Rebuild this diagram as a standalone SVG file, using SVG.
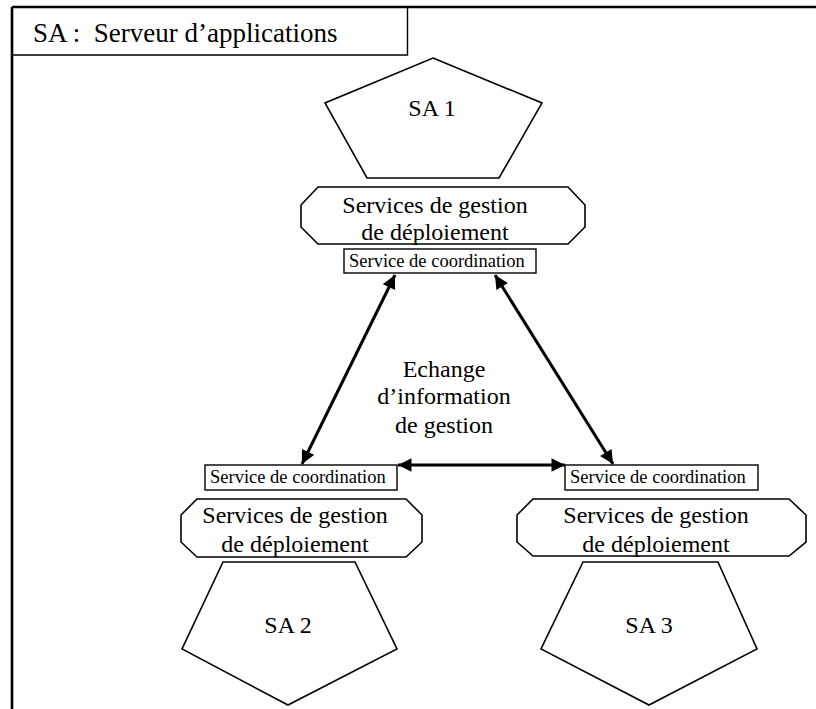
<svg xmlns="http://www.w3.org/2000/svg" width="816" height="709" viewBox="0 0 816 709">
  <style>
    text { font-family: "Liberation Serif", "Times New Roman", serif; fill: #000; }
    .big { font-size: 24px; text-anchor: middle; }
    .small { font-size: 18.5px; }
    .shape { fill: #fff; stroke: #000; stroke-width: 1.6; stroke-linejoin: miter; }
    .box { fill: #fff; stroke: #000; stroke-width: 1.4; }
    .link { stroke: #000; stroke-width: 3; fill: none; marker-start: url(#head); marker-end: url(#head); }
  </style>
  <defs>
    <marker id="head" viewBox="0 0 10 10" refX="10" refY="5" markerWidth="5" markerHeight="4.5" orient="auto-start-reverse" markerUnits="strokeWidth">
      <path d="M0,0 L10,5 L0,10 Z" fill="#000"/>
    </marker>
  </defs>

  <rect width="816" height="709" fill="#fff"/>

  <!-- outer frame and legend header -->
  <g id="frame">
    <line x1="12" y1="7" x2="816" y2="7" stroke="#000" stroke-width="2.6"/>
    <line x1="12" y1="7" x2="12" y2="709" stroke="#000" stroke-width="2.6"/>
    <polyline points="407.5,7 407.5,55 12,55" fill="none" stroke="#000" stroke-width="1.4"/>
    <text x="33" y="42" font-size="27" xml:space="preserve">SA :  Serveur d’applications</text>
  </g>

  <!-- application server 1 (top) -->
  <g id="sa1">
    <polygon class="shape" points="433,58 542,103 499,178 367,178 325,103"/>
    <text class="big" x="432" y="116">SA 1</text>
  </g>
  <g id="deploy1">
    <polygon class="shape" points="318,187 568,187 585,205 585,227 568,244 318,244 301,227 301,205"/>
    <text class="big" x="435" y="213">Services de gestion</text>
    <text class="big" x="435" y="240">de déploiement</text>
  </g>
  <g id="coord1">
    <rect class="box" x="344" y="249" width="192" height="24"/>
    <text class="small" x="349" y="267">Service de coordination</text>
  </g>

  <!-- application server 2 (bottom left) -->
  <g id="coord2">
    <rect class="box" x="205" y="465" width="192" height="25"/>
    <text class="small" x="210" y="483">Service de coordination</text>
  </g>
  <g id="deploy2">
    <polygon class="shape" points="197,499 406,499 422,515 422,542 406,557 197,557 181,542 181,515"/>
    <text class="big" x="295" y="523">Services de gestion</text>
    <text class="big" x="295" y="552">de déploiement</text>
  </g>
  <g id="sa2">
    <polygon class="shape" points="223,562 355,562 397,649 288,705 182,649"/>
    <text class="big" x="288" y="633">SA 2</text>
  </g>

  <!-- application server 3 (bottom right) -->
  <g id="coord3">
    <rect class="box" x="565" y="465" width="193" height="25"/>
    <text class="small" x="570" y="483">Service de coordination</text>
  </g>
  <g id="deploy3">
    <polygon class="shape" points="533,499 789,499 806,515 806,542 789,556 533,556 517,542 517,515"/>
    <text class="big" x="656" y="523">Services de gestion</text>
    <text class="big" x="656" y="552">de déploiement</text>
  </g>
  <g id="sa3">
    <polygon class="shape" points="583,562 718,562 757,649 649,705 541,649"/>
    <text class="big" x="649" y="633">SA 3</text>
  </g>

  <!-- management information exchange -->
  <g id="exchange-label">
    <text class="big" x="444" y="377">Echange</text>
    <text class="big" x="444" y="404">d’information</text>
    <text class="big" x="444" y="433">de gestion</text>
  </g>

  <g id="connectors">
    <line class="link" x1="395" y1="275" x2="302" y2="464"/>
    <line class="link" x1="495" y1="275" x2="613" y2="464"/>
    <line class="link" x1="398" y1="465" x2="565" y2="465"/>
  </g>
</svg>
